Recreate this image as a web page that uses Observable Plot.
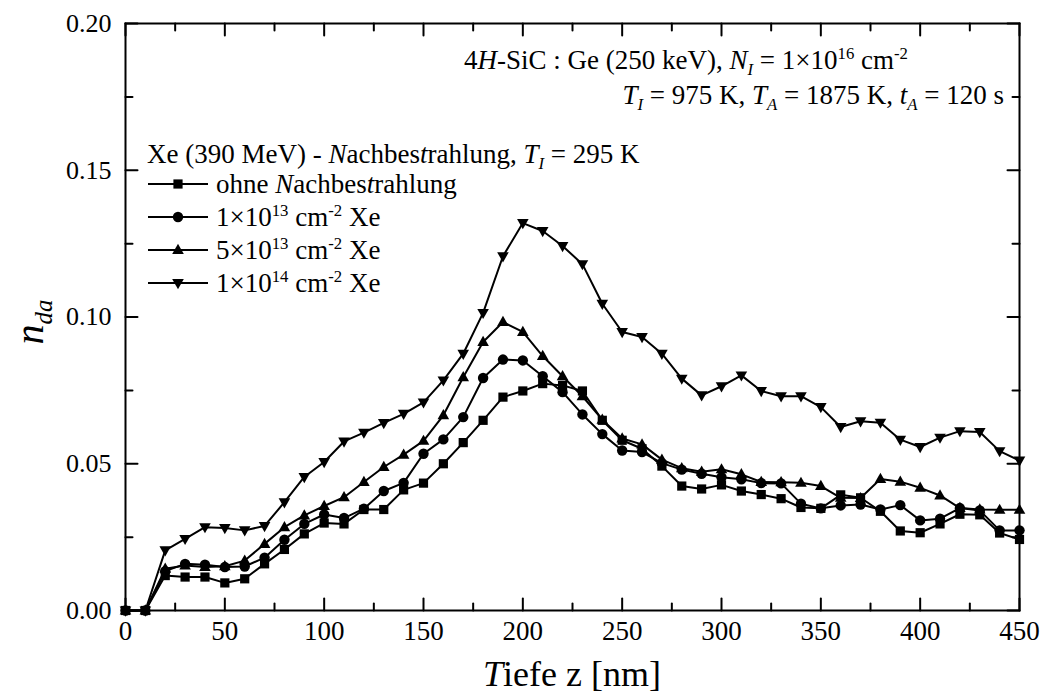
<!DOCTYPE html>
<html><head><meta charset="utf-8">
<script src="https://cdn.jsdelivr.net/npm/d3@7"></script>
<script src="https://cdn.jsdelivr.net/npm/@observablehq/plot@0.6"></script>
<style>
body{margin:0;background:#fff}
svg{display:block}
</style>
</head><body><div id="chart"></div>
<script>
// ---- data ----
const depth = [0,10,20,30,40,50,60,70,80,90,100,110,120,130,140,150,160,170,180,190,200,210,220,230,240,250,260,270,280,290,300,310,320,330,340,350,360,370,380,390,400,410,420,430,440,450];
const ohne   = [0,0,0.0119,0.0114,0.0114,0.0094,0.0108,0.0159,0.0208,0.0261,0.0298,0.0295,0.0344,0.0344,0.0411,0.0434,0.0500,0.0572,0.0648,0.0727,0.0748,0.0773,0.0767,0.0748,0.0648,0.0580,0.0551,0.0492,0.0424,0.0414,0.0428,0.0407,0.0395,0.0381,0.0351,0.0348,0.0394,0.0384,0.0338,0.0271,0.0265,0.0295,0.0328,0.0326,0.0264,0.0242];
const xe1e13 = [0,0,0.0134,0.0159,0.0156,0.0148,0.0150,0.0180,0.0241,0.0295,0.0327,0.0315,0.0347,0.0407,0.0435,0.0534,0.0583,0.0659,0.0792,0.0855,0.0852,0.0798,0.0744,0.0668,0.0601,0.0545,0.0540,0.0502,0.0480,0.0466,0.0454,0.0447,0.0434,0.0433,0.0364,0.0348,0.0358,0.0361,0.0344,0.0359,0.0307,0.0313,0.0349,0.0341,0.0273,0.0273];
const xe5e13 = [0,0,0.0142,0.0153,0.0148,0.0151,0.0170,0.0227,0.0284,0.0324,0.0356,0.0386,0.0438,0.0489,0.0531,0.0578,0.0665,0.0795,0.0915,0.0983,0.0949,0.0867,0.0798,0.0730,0.0650,0.0586,0.0566,0.0514,0.0485,0.0473,0.0481,0.0464,0.0438,0.0437,0.0435,0.0424,0.0384,0.0383,0.0448,0.0439,0.0418,0.0392,0.0349,0.0344,0.0343,0.0343];
const xe1e14 = [0,0,0.0205,0.0244,0.0284,0.0281,0.0273,0.0288,0.0369,0.0455,0.0506,0.0576,0.0606,0.0639,0.0670,0.0709,0.0784,0.0875,0.1014,0.1207,0.1320,0.1293,0.1242,0.1180,0.1045,0.0949,0.0932,0.0875,0.0790,0.0733,0.0764,0.0801,0.0748,0.0730,0.0730,0.0693,0.0625,0.0645,0.0640,0.0582,0.0557,0.0589,0.0611,0.0608,0.0543,0.0511];

const seriesKeys = ["ohne", "1e13", "5e13", "1e14"];
const seriesValues = [ohne, xe1e13, xe5e13, xe1e14];

const xMajorTicks = [0,50,100,150,200,250,300,350,400,450];
const xMinorTicks = [25,75,125,175,225,275,325,375,425];
const yMajorTicks = [0,0.05,0.10,0.15,0.20];
const yMinorTicks = [0.025,0.075,0.125,0.175];

// ---- symbols ----
const symSquare = {draw(c){ const h=4.6; c.moveTo(-h,-h); c.lineTo(h,-h); c.lineTo(h,h); c.lineTo(-h,h); c.closePath(); }};
const symCircle = {draw(c){ c.moveTo(5.2,0); c.arc(0,0,5.2,0,2*Math.PI); c.closePath(); }};
const symUp = {draw(c){ c.moveTo(0,-6.2); c.lineTo(5.8,4); c.lineTo(-5.8,4); c.closePath(); }};
const symDown = {draw(c){ c.moveTo(0,6.2); c.lineTo(5.8,-4); c.lineTo(-5.8,-4); c.closePath(); }};
const symbols = [symSquare, symCircle, symUp, symDown];

const rows = [];
seriesKeys.forEach((k, si) => depth.forEach((d, i) => rows.push({series: k, si, depth: d, value: seriesValues[si][i]})));

const tickShape = {draw(c, l){ c.moveTo(0,0); c.lineTo(0,-l); }};
const tickMark = (data, chan, rot, len) => Plot.vector(data, {...chan, length: len, rotate: rot, anchor: "start", shape: tickShape, stroke: "black", strokeWidth: 2});

const font = '"Liberation Serif", "DejaVu Serif", serif';

const marks = [
  Plot.frame({stroke: "black", strokeWidth: 2}),
  tickMark(xMajorTicks, {x: d => d, y: () => 0}, 0, 12),
  tickMark(xMinorTicks, {x: d => d, y: () => 0}, 0, 7),
  tickMark(xMajorTicks, {x: d => d, y: () => 0.2}, 180, 12),
  tickMark(xMinorTicks, {x: d => d, y: () => 0.2}, 180, 7),
  tickMark(yMajorTicks, {y: d => d, x: () => 0}, 90, 12),
  tickMark(yMinorTicks, {y: d => d, x: () => 0}, 90, 7),
  tickMark(yMajorTicks, {y: d => d, x: () => 450}, 270, 12),
  tickMark(yMinorTicks, {y: d => d, x: () => 450}, 270, 7),
  Plot.axisX({ticks: xMajorTicks, tickSize: 0, tickPadding: 10, fontSize: 27, label: null, tickFormat: d => String(d)}),
  Plot.axisY({ticks: yMajorTicks, tickSize: 0, tickPadding: 14, fontSize: 26, label: null, tickFormat: d3.format(".2f")})
];
seriesKeys.forEach((k, si) => {
  const data = rows.filter(r => r.series === k);
  marks.push(Plot.line(data, {x: "depth", y: "value", stroke: "black", strokeWidth: 2}));
  marks.push(Plot.dot(data, {x: "depth", y: "value", symbol: symbols[si], fill: "black", stroke: "none", r: 5}));
});

const svg = Plot.plot({
  width: 1045, height: 695,
  marginLeft: 125, marginRight: 26, marginTop: 23, marginBottom: 85,
  x: {domain: [0, 450]},
  y: {domain: [0, 0.2]},
  style: {background: "white", color: "black", fontFamily: font},
  marks
});
document.getElementById("chart").appendChild(svg);

// ---- rich text helper ----
function richText(g, x, y, segs, size, anchor) {
  const t = g.append("text").attr("x", x).attr("y", y).attr("font-size", size)
    .attr("text-anchor", anchor || "start").attr("fill", "black").attr("font-family", font);
  for (const s of segs) {
    const seg = typeof s === "string" ? {t: s} : s;
    const sp = t.append("tspan").text(seg.t);
    if (seg.i) sp.attr("font-style", "italic");
    if (seg.sub) sp.attr("font-size", size * 0.62).style("baseline-shift", (-size * 0.22) + "px");
    if (seg.sup) sp.attr("font-size", size * 0.62).style("baseline-shift", (size * 0.38) + "px");
  }
  return t;
}
const g = d3.select(svg).append("g");

// axis titles
richText(g, 572, 686, [{t: "T", i: true}, "iefe z [nm]"], 36, "middle");
const yl = g.append("g").attr("transform", "translate(43,322) rotate(-90)");
richText(yl, 0, 0, [{t: "n", i: true}, {t: "da", i: true, sub: true}], 40, "middle");

// annotation
richText(g, 464, 69, ["4", {t: "H", i: true}, "-SiC : Ge (250 keV), ", {t: "N", i: true}, {t: "I", i: true, sub: true}, " = 1×10", {t: "16", sup: true}, " cm", {t: "-2", sup: true}], 27);
richText(g, 1004, 104, [{t: "T", i: true}, {t: "I", i: true, sub: true}, " = 975 K, ", {t: "T", i: true}, {t: "A", i: true, sub: true}, " = 1875 K, ", {t: "t", i: true}, {t: "A", i: true, sub: true}, " = 120 s"], 27, "end");

// legend
richText(g, 147, 163, ["Xe (390 MeV) - ", {t: "N", i: true}, "achbes", {t: "t", i: true}, "rahlung, ", {t: "T", i: true}, {t: "I", i: true, sub: true}, " = 295 K"], 27);
const legendLabels = [
  ["ohne ", {t: "N", i: true}, "achbes", {t: "t", i: true}, "rahlung"],
  ["1×10", {t: "13", sup: true}, " cm", {t: "-2", sup: true}, " Xe"],
  ["5×10", {t: "13", sup: true}, " cm", {t: "-2", sup: true}, " Xe"],
  ["1×10", {t: "14", sup: true}, " cm", {t: "-2", sup: true}, " Xe"]
];
seriesKeys.forEach((k, si) => {
  const cy = 184 + si * 33;
  g.append("line").attr("x1", 148).attr("x2", 208).attr("y1", cy).attr("y2", cy).attr("stroke", "black").attr("stroke-width", 2);
  g.append("path").attr("d", d3.symbol(symbols[si])()).attr("transform", `translate(178,${cy})`).attr("fill", "black");
  richText(g, 216, cy + 9, legendLabels[si], 27);
});
</script></body></html>
